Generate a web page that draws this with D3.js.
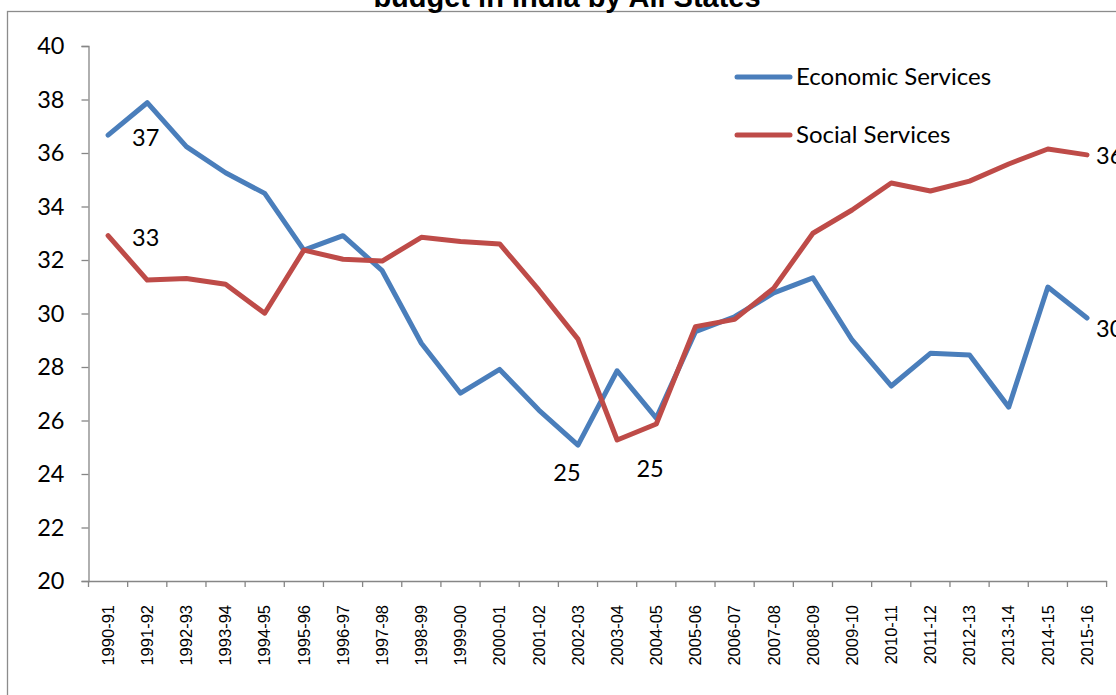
<!DOCTYPE html>
<html>
<head>
<meta charset="utf-8">
<script src="https://cdn.jsdelivr.net/npm/d3@7"></script>
<style>
  html, body { margin: 0; padding: 0; background: #ffffff; }
  svg { display: block; }
</style>
</head>
<body>
<svg id="chart" width="1116" height="695"></svg>
<script>
// Fiscal years on the category axis
const years = ["1990-91","1991-92","1992-93","1993-94","1994-95","1995-96","1996-97",
  "1997-98","1998-99","1999-00","2000-01","2001-02","2002-03","2003-04","2004-05",
  "2005-06","2006-07","2007-08","2008-09","2009-10","2010-11","2011-12","2012-13",
  "2013-14","2014-15","2015-16"];

// Share of the budget (%) by service
const economicServices = [36.67, 37.88, 36.24, 35.26, 34.49, 32.37, 32.91, 31.60, 28.89,
  27.02, 27.91, 26.39, 25.08, 27.86, 26.09, 29.32, 29.88, 30.77, 31.33, 29.01, 27.29,
  28.51, 28.45, 26.50, 30.99, 29.83];
const socialServices = [32.91, 31.25, 31.31, 31.09, 30.01, 32.37, 32.03, 31.96, 32.85,
  32.69, 32.60, 30.88, 29.04, 25.27, 25.87, 29.51, 29.78, 30.95, 33.00, 33.87, 34.88,
  34.58, 34.95, 35.59, 36.15, 35.93];

const seriesNames = ["Economic Services", "Social Services"];
const yTicks = [20, 22, 24, 26, 28, 30, 32, 34, 36, 38, 40];
const titleText = "budget in India by All States";

// Points that carry a value label (series index, year index)
const labelledPoints = [[0, 0], [1, 0], [0, 12], [1, 13], [1, 25], [0, 25]];

// Label placement relative to its point, in pixels
const labelOffsets = [[24, 3], [24, 2], [-11, 28], [33, 29], [9, 1], [9, 11]];

const colors = ["#4A7EBB", "#BE4B48"];
const axisColor = "#868686";
const bodyFont = "Lato, 'Open Sans', sans-serif";
const tickFont = "'Liberation Sans', Arial, sans-serif";

const svg = d3.select("#chart");

// Chart frame (runs past the right and bottom edges)
svg.append("rect")
  .attr("x", 7.5).attr("y", 11.5)
  .attr("width", 1130).attr("height", 700)
  .attr("fill", "none").attr("stroke", "#8c8c8c").attr("stroke-width", 1.3);

// Title (top part runs past the page edge)
svg.append("text")
  .attr("x", 567).attr("y", 7)
  .attr("text-anchor", "middle")
  .attr("font-family", "'Liberation Sans', Arial, sans-serif")
  .attr("font-weight", "bold")
  .attr("font-size", 29)
  .attr("fill", "#000")
  .text(titleText);

const plotLeft = 88.5, plotRight = 1106.6, plotTop = 46, plotBottom = 581;

const x = d3.scaleBand().domain(years).range([plotLeft, plotRight]).padding(0);
const y = d3.scaleLinear().domain([20, 40]).range([plotBottom, plotTop]);
const cx = d => x(d) + x.bandwidth() / 2;

// Y axis
const yAxis = svg.append("g")
  .attr("transform", `translate(${plotLeft},0)`)
  .call(d3.axisLeft(y).tickValues(yTicks).tickSize(7).tickPadding(17).tickFormat(d3.format("d")));
yAxis.select(".domain").attr("stroke", axisColor).attr("stroke-width", 1.3);
yAxis.selectAll(".tick line").attr("stroke", axisColor).attr("stroke-width", 1.3);
yAxis.selectAll(".tick text")
  .attr("font-family", bodyFont).attr("font-size", 23.5).attr("fill", "#000");

// X axis: labels centred under each category, ticks on category boundaries
const xAxis = svg.append("g")
  .attr("transform", `translate(0,${plotBottom})`)
  .call(d3.axisBottom(x).tickSize(0).tickSizeOuter(0));
xAxis.select(".domain").attr("stroke", axisColor).attr("stroke-width", 1.3);
xAxis.selectAll(".tick text")
  .attr("font-family", tickFont).attr("font-size", 16.5).attr("fill", "#000")
  .attr("transform", "translate(0,24) rotate(-90)")
  .attr("text-anchor", "end")
  .attr("x", 0).attr("y", 0).attr("dy", "0.35em");

const boundaries = years.map(d => x(d)).concat([x(years[years.length - 1]) + x.bandwidth()]);
xAxis.selectAll(".bound")
  .data(boundaries)
  .enter().append("line")
  .attr("class", "bound")
  .attr("x1", d => d).attr("x2", d => d)
  .attr("y1", 0).attr("y2", 6)
  .attr("stroke", axisColor).attr("stroke-width", 1.3);

// Lines
const seriesData = [economicServices, socialServices];
const line = d3.line()
  .x((d, i) => cx(years[i]))
  .y(d => y(d));

svg.selectAll(".series")
  .data(seriesData)
  .enter().append("path")
  .attr("class", "series")
  .attr("d", d => line(d))
  .attr("fill", "none")
  .attr("stroke", (d, i) => colors[i])
  .attr("stroke-width", 5)
  .attr("stroke-linejoin", "round")
  .attr("stroke-linecap", "round");

// Value labels
svg.selectAll(".vlabel")
  .data(labelledPoints)
  .enter().append("text")
  .attr("class", "vlabel")
  .attr("x", (d, k) => cx(years[d[1]]) + labelOffsets[k][0])
  .attr("y", (d, k) => y(seriesData[d[0]][d[1]]) + labelOffsets[k][1])
  .attr("dy", "0.35em")
  .attr("text-anchor", (d, k) => labelOffsets[k][0] < 0 || (d[1] > 0 && d[1] < 25) ? "middle" : "start")
  .attr("font-family", bodyFont).attr("font-size", 23.5).attr("fill", "#000")
  .text(d => d3.format(".0f")(seriesData[d[0]][d[1]]));

// Legend
const legend = svg.append("g");
seriesNames.forEach((name, i) => {
  const ly = 77 + i * 58;
  legend.append("line")
    .attr("x1", 737).attr("x2", 790).attr("y1", ly).attr("y2", ly)
    .attr("stroke", colors[i]).attr("stroke-width", 5).attr("stroke-linecap", "round");
  legend.append("text")
    .attr("x", 796).attr("y", ly).attr("dy", "0.35em")
    .attr("font-family", bodyFont).attr("font-size", 24).attr("fill", "#000")
    .text(name);
});
</script>
</body>
</html>
